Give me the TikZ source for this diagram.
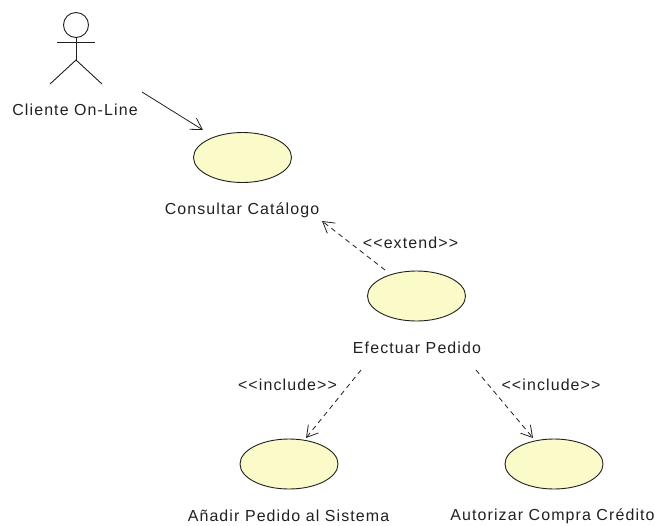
\documentclass[tikz,border=0pt]{standalone}
\usepackage{fontspec}
\setmainfont{Liberation Sans}[LetterSpace=7]
\usetikzlibrary{arrows.meta,shapes.geometric}
\definecolor{ucfill}{HTML}{FBFBC9}
\definecolor{ink}{HTML}{202020}
\tikzset{
  usecase/.style={ellipse,draw=ink,fill=ucfill,line width=0.9pt,minimum width=98pt,minimum height=50pt,inner sep=0pt},
  lab/.style={inner sep=0pt,text=ink,font=\fontsize{15.95pt}{17pt}\selectfont},
  limb/.style={draw=ink,line width=0.9pt},
  assoc/.style={draw=ink,line width=0.8pt,-{Straight Barb[length=11pt,width=13pt,line width=0.8pt]}},
  dep/.style={assoc,dash pattern=on 5pt off 4pt}
}
\begin{document}
\begin{tikzpicture}[x=1pt,y=-1pt]
\useasboundingbox (0,0) rectangle (656,525);
% actor
\node[circle,limb,minimum size=25pt,inner sep=0pt] (head) at (76,25) {};
\coordinate (hip) at (76,60);
\coordinate (armL) at (57,42);
\coordinate (armR) at (95,42);
\coordinate (footL) at (50,84);
\coordinate (footR) at (102,84);
\draw[limb] (head.south) -- (hip);
\draw[limb] (armL) -- (armR);
\draw[limb] (footL) -- (hip) -- (footR);
\node[lab] (actor) at (75,110) {Cliente On-Line};
% use cases
\node[usecase] (cons) at (242.5,157.5) {};
\node[usecase] (efec) at (416.5,296) {};
\node[usecase] (anad) at (289,464) {};
\node[usecase] (auto) at (554,464) {};
\node[lab] (lcons) at (242,210) {Consultar Catálogo};
\node[lab] (lefec) at (417,348) {Efectuar Pedido};
\node[lab] (lanad) at (288.5,516) {Añadir Pedido al Sistema};
\node[lab] (lauto) at (552.5,516) {Autorizar Compra Crédito};
\node[lab] (lext) at (410.5,243) {<{}<extend>{}>};
\node[lab] (linc1) at (287.5,385) {<{}<include>{}>};
\node[lab] (linc2) at (551,385) {<{}<include>{}>};
% connector ends
\coordinate (s1) at (142,92);
\coordinate (t1) at (203,130);
\coordinate (s2) at (385,270);
\coordinate (t2) at (322,221);
\coordinate (s3) at (361,370);
\coordinate (t3) at (306,438);
\coordinate (s4) at (476,370);
\coordinate (t4) at (533,438);
\draw[assoc] (s1) -- (t1);
\draw[dep] (s2) -- (t2);
\draw[dep] (s3) -- (t3);
\draw[dep] (s4) -- (t4);
\end{tikzpicture}
\end{document}
